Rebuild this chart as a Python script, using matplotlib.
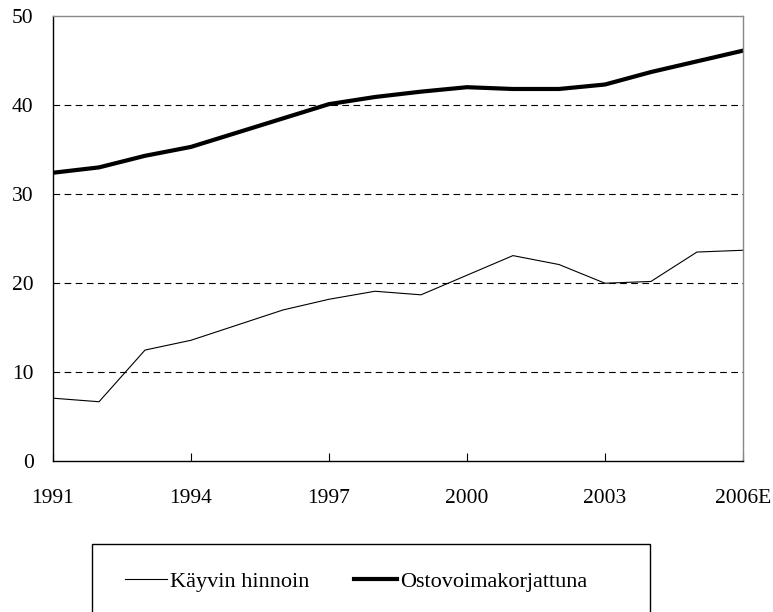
import matplotlib.pyplot as plt
from matplotlib.patches import Rectangle

years = list(range(1991, 2007))
tick_years = [1991, 1994, 1997, 2000, 2003, 2006]
tick_labels = ['1991', '1994', '1997', '2000', '2003', '2006E']

# Käyvin hinnoin (current prices)
current = [7.1, 6.7, 12.5, 13.6, 15.3, 17.0, 18.2, 19.1, 18.7, 20.9,
           23.1, 22.1, 20.0, 20.2, 23.5, 23.7]
# Ostovoimakorjattuna (PPP adjusted)
ppp = [32.4, 33.0, 34.3, 35.3, 36.9, 38.5, 40.1, 40.9, 41.5, 42.0,
       41.8, 41.8, 42.3, 43.7, 44.9, 46.1]

plt.rcParams['font.family'] = ['Liberation Serif', 'DejaVu Serif']

fig = plt.figure(figsize=(7.73, 6.12), dpi=100)
ax = fig.add_axes([0.0686, 0.246, 0.8925, 0.728])

l1, = ax.plot(years, current, color='black', linewidth=0.8, label='Käyvin hinnoin')
l2, = ax.plot(years, ppp, color='black', linewidth=3.0, label='Ostovoimakorjattuna')

ax.set_xlim(1991, 2006)
ax.set_ylim(0, 50)
ax.set_yticks([0, 10, 20, 30, 40, 50])
ax.set_xticks(tick_years)
ax.set_xticklabels(tick_labels)

for y in [10, 20, 30, 40]:
    ax.axhline(y, color='black', linestyle=(0, (6, 4)), linewidth=0.8, zorder=0)

ax.spines['top'].set_color('#888888')
ax.spines['right'].set_color('#888888')
ax.spines['left'].set_color('black')
ax.spines['bottom'].set_color('black')
for s in ax.spines.values():
    s.set_linewidth(1.0)

ax.tick_params(axis='y', length=0, pad=14, labelsize=15.5)
ax.tick_params(axis='x', direction='in', length=6, pad=20, labelsize=15.5)

# legend box (runs off the bottom edge)
fig.patches.append(Rectangle((92 / 773, -0.05), (650 - 92) / 773, 0.05 + (612 - 544) / 612,
                             transform=fig.transFigure, fill=False,
                             edgecolor='black', linewidth=1.0))
fig.legend(handles=[l1, l2], loc='center', bbox_to_anchor=(356 / 773, 1 - 582 / 612),
           ncol=2, frameon=False, fontsize=16, handlelength=1.9, handletextpad=0.15,
           columnspacing=2.0)

fig.savefig('out.png', dpi=100)
